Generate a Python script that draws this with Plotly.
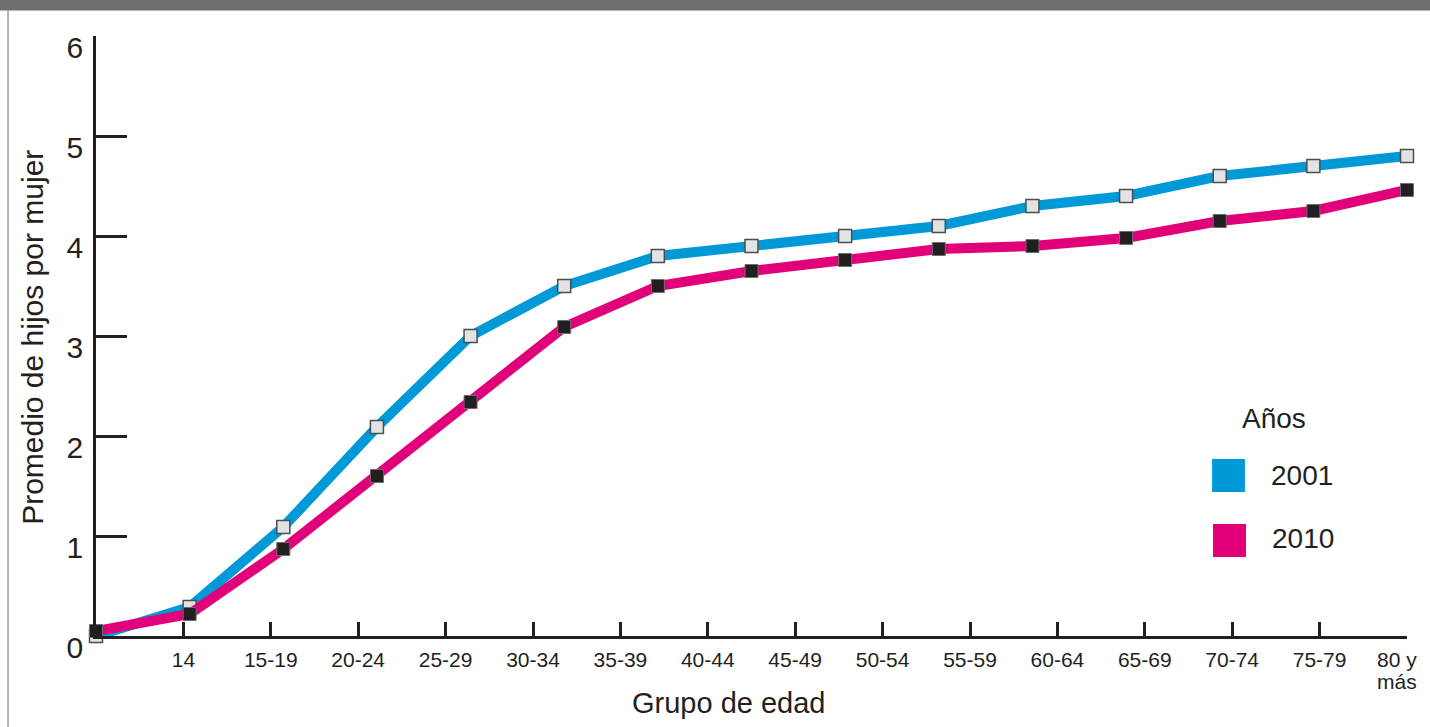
import plotly.graph_objects as go

# ---- data ----
age_groups = ["14", "15-19", "20-24", "25-29", "30-34", "35-39", "40-44", "45-49",
              "50-54", "55-59", "60-64", "65-69", "70-74", "75-79", "80 y más"]
point_index = list(range(15))  # data points (origin + 14 points)
hijos_2001 = [0.0, 0.29, 1.09, 2.09, 3.0, 3.5, 3.8, 3.9, 4.0, 4.1, 4.3, 4.4, 4.6, 4.7, 4.8]
hijos_2010 = [0.05, 0.22, 0.87, 1.6, 2.34, 3.09, 3.5, 3.65, 3.76, 3.87, 3.9, 3.98, 4.15, 4.25, 4.46]
y_ticks = [0, 1, 2, 3, 4, 5, 6]

BLUE = "#0099d8"
PINK = "#e2007a"
DARK = "#231f20"
FONT = "Liberation Sans, Arial, Helvetica, sans-serif"

fig = go.Figure()
fig.add_trace(go.Scatter(
    x=point_index, y=hijos_2001, mode="lines+markers", name="2001",
    line=dict(color=BLUE, width=10),
    marker=dict(symbol="square", size=13, color="#e2e3e4",
                line=dict(color="#4d4d4f", width=1.5)),
    cliponaxis=False, showlegend=False))
fig.add_trace(go.Scatter(
    x=point_index, y=hijos_2010, mode="lines+markers", name="2010",
    line=dict(color=PINK, width=10),
    marker=dict(symbol="square", size=13, color=DARK,
                line=dict(color="#6d6e70", width=1)),
    cliponaxis=False, showlegend=False))

# the last (two-line) label is drawn as annotations so it can sit slightly left of its tick
tick_text = age_groups[:-1] + [""]
last_lines = age_groups[-1].rsplit(" ", 1)  # ["80 y", "más"]

fig.update_layout(
    width=1430, height=727,
    margin=dict(l=96, r=23, t=36, b=91, autoexpand=False),
    paper_bgcolor="white", plot_bgcolor="white",
    font=dict(family=FONT, color=DARK),
    xaxis=dict(range=[0, len(point_index) - 1], visible=False, fixedrange=True,
               automargin=False),
    xaxis2=dict(
        overlaying="x", anchor="y", side="bottom",
        range=[0, len(age_groups)], automargin=False,
        tickmode="array", tickvals=list(range(1, len(age_groups) + 1)), ticktext=tick_text,
        ticks="inside", ticklen=14, tickwidth=2.5, tickcolor=DARK,
        showline=True, linecolor=DARK, linewidth=2.5,
        showgrid=False, zeroline=False,
        tickfont=dict(size=21, family=FONT, color=DARK),
        ticklabelstandoff=3,
    ),
    yaxis=dict(
        range=[0, 6], tickmode="array", tickvals=y_ticks, automargin=False,
        ticks="inside", ticklen=31, tickwidth=2.5, tickcolor=DARK,
        showline=True, linecolor=DARK, linewidth=2.5,
        showgrid=False, zeroline=False,
        tickfont=dict(size=30, family=FONT, color=DARK),
        ticklabelstandoff=4, ticklabelshift=11,
    ),
)

# invisible trace to make xaxis2 live
fig.add_trace(go.Scatter(x=[None], y=[None], xaxis="x2", yaxis="y",
                         showlegend=False, hoverinfo="skip"))

annotations = [
    dict(text="Promedio de hijos por mujer", x=-0.0480, y=0.497, textangle=-90,
         font=dict(size=30, family=FONT, color=DARK)),
    dict(text="Grupo de edad", x=0.4828, y=-0.1117,
         font=dict(size=29, family=FONT, color=DARK)),
    dict(text="Años", x=0.8986, y=0.3633, font=dict(size=28, family=FONT, color=DARK)),
    dict(text="2001", x=0.9199, y=0.2683, font=dict(size=28, family=FONT, color=DARK)),
    dict(text="2010", x=0.9207, y=0.1617, font=dict(size=28, family=FONT, color=DARK)),
]
for a in annotations:
    a.update(xref="paper", yref="paper", showarrow=False, xanchor="center", yanchor="middle")
for line_text, ypix in zip(last_lines, [659, 681]):
    annotations.append(dict(text=line_text, xref="x2", x=len(age_groups), xshift=-10,
                            yref="paper", y=(636 - ypix) / 600, showarrow=False,
                            xanchor="center", yanchor="middle",
                            font=dict(size=21, family=FONT, color=DARK)))
fig.update_layout(annotations=annotations)

shapes = [
    # top gray band
    dict(type="rect", xref="paper", yref="paper", x0=-0.0733, x1=1.0176, y0=1.0425, y1=1.061,
         fillcolor="#6d6e70", line=dict(width=0), layer="below"),
    # left gray rule
    dict(type="line", xref="paper", yref="paper", x0=-0.0671, x1=-0.0671, y0=-0.152, y1=1.0425,
         line=dict(color="#9a9a9a", width=1.5)),
    # legend swatches
    dict(type="rect", xref="paper", yref="paper", x0=0.8513, x1=0.8764, y0=0.24, y1=0.295,
         fillcolor=BLUE, line=dict(width=0)),
    dict(type="rect", xref="paper", yref="paper", x0=0.8520, x1=0.8772, y0=0.1317, y1=0.1867,
         fillcolor=PINK, line=dict(width=0)),
]
fig.update_layout(shapes=shapes)

fig.write_html("out.html", config={"displayModeBar": False},
               post_script="document.body.style.margin='0';document.body.style.overflow='hidden';")
